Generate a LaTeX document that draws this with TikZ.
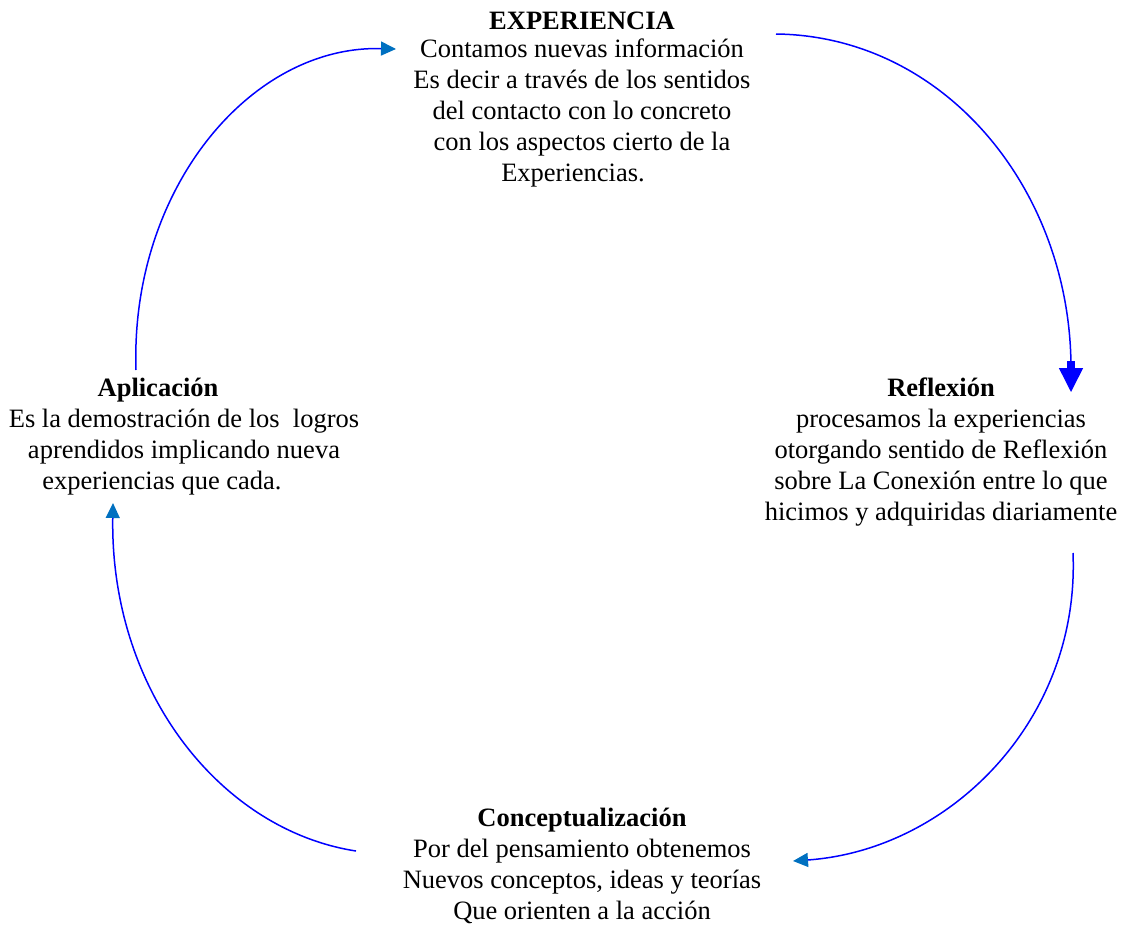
\documentclass[tikz,border=0pt]{standalone}
\usepackage{fontspec}
\setmainfont{Liberation Serif}
\usepackage{xcolor}
\usepackage{tikz}
\usetikzlibrary{arrows.meta}

\definecolor{cyclelinie}{RGB}{0,0,255}
\definecolor{tipblue}{RGB}{0,112,192}

\begin{document}
\begin{tikzpicture}[x=1pt,y=-1pt,
    stage/.style={anchor=north,align=center,inner sep=0pt,
      font=\fontsize{26.5}{31}\selectfont},
    cycle/.style={draw=cyclelinie,line width=1.5pt},
    small tip/.style={-{Triangle[length=15pt,width=14pt,color=tipblue]}},
    big tip/.style={-{Rectangle[length=7pt,width=8pt,color=cyclelinie]Triangle[length=24pt,width=24pt,color=cyclelinie]}}]
  \useasboundingbox (0,0) rectangle (1130,924);
  % the four stages of the cycle
  \node[stage] (exp) at (582,12) {\textbf{EXPERIENCIA}\\[-3pt]
    Contamos nuevas información\\
    Es decir a través de los sentidos\\
    del contacto con lo concreto\\
    con los aspectos cierto de la\\
    Experiencias.\hspace*{18pt}};
  \node[stage] (refl) at (941,378) {\textbf{Reflexión}\\
    procesamos la experiencias\hspace*{18pt}\\
    otorgando sentido de Reflexión\\
    sobre La Conexión entre lo que\\
    hicimos y adquiridas diariamente};
  \node[stage] (conc) at (582,808) {\textbf{Conceptualización}\\
    Por del pensamiento obtenemos\\
    Nuevos conceptos, ideas y teorías\\
    Que orienten a la acción};
  \node[stage] (apli) at (184,378) {\textbf{Aplicación}\hspace*{52pt}\\
    Es la demostración de los \ logros\\
    aprendidos implicando nueva\hspace*{20pt}\\
    experiencias que cada.\hspace*{44pt}};
  % arc end points
  \coordinate (exp out) at (776,34);
  \coordinate (refl in) at (1071,392);
  \coordinate (refl out) at (1073,553);
  \coordinate (conc in) at (793,861);
  \coordinate (conc out) at (356,851);
  \coordinate (apli in) at (113,503);
  \coordinate (apli out) at (136,370);
  \coordinate (exp in) at (396,49);
  % arcs round the cycle
  \draw[cycle,big tip] (exp out) .. controls (945,36) and (1071,190) .. (refl in);
  \draw[cycle,small tip] (refl out) .. controls (1080,720) and (950,850) .. (conc in);
  \draw[cycle,small tip] (conc out) .. controls (220,830) and (110,690) .. (apli in);
  \draw[cycle,small tip] (apli out) .. controls (130,190) and (250,45) .. (exp in);
\end{tikzpicture}
\end{document}
